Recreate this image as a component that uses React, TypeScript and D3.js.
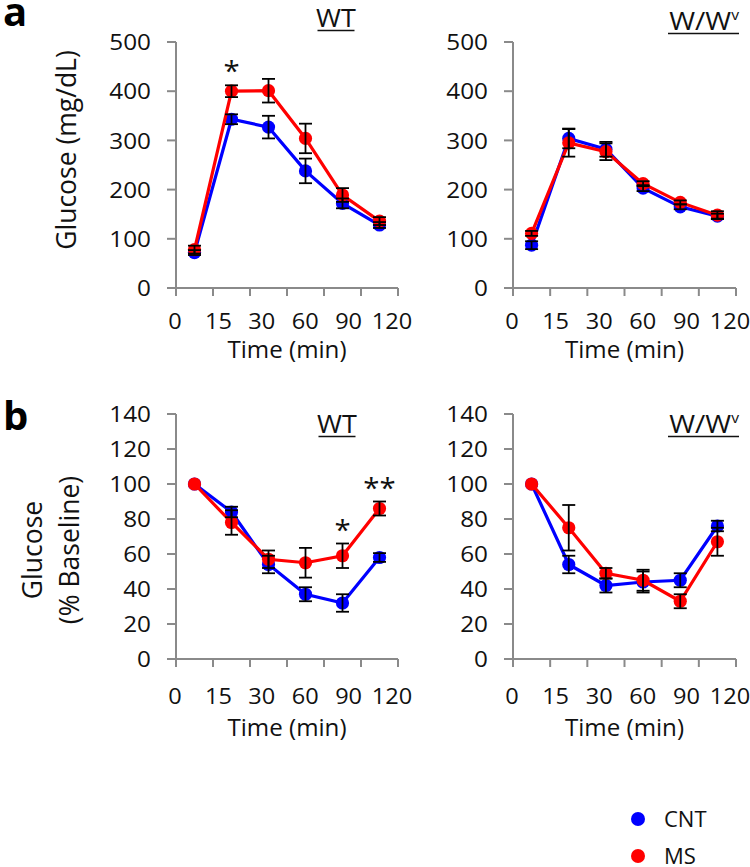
import React from 'react';
import * as d3 from 'd3';

const timeLabels = ['0', '15', '30', '60', '90', '120'];

const aWtCnt = [72, 343, 327, 238, 172, 128];
const aWtCntErr = [5, 10, 23, 25, 10, 6];
const aWtMs = [78, 400, 401, 304, 189, 136];
const aWtMsErr = [8, 12, 24, 30, 14, 8];

const aWvCnt = [87, 304, 282, 203, 165, 146];
const aWvCntErr = [8, 20, 15, 6, 5, 5];
const aWvMs = [111, 295, 277, 212, 174, 148];
const aWvMsErr = [5, 28, 17, 5, 4, 8];

const bWtCnt = [100, 84, 54, 37, 32, 58];
const bWtCntErr = [0, 3, 5, 4, 5, 2.5];
const bWtMs = [100, 78, 57, 55, 59, 86];
const bWtMsErr = [0, 7, 5, 8.5, 7, 4];

const bWvCnt = [100, 54, 42, 44, 45, 76];
const bWvCntErr = [0, 5, 4, 6, 4, 3];
const bWvMs = [100, 75, 49, 45, 33, 67];
const bWvMsErr = [0, 13, 3, 6, 4, 8];

const aTicks = [0, 100, 200, 300, 400, 500];
const bTicks = [0, 20, 40, 60, 80, 100, 120, 140];

const seriesNames = ['CNT', 'MS'];
const seriesColors = ['#0000ff', '#ff0000'];

const FONT = "'Open Sans', sans-serif";
const AXIS = '#8a8a8a';
const INK = '#111';

type Star = { idx: number; text: string };

function T(props: { x: number; y: number; size: number; sx?: number; anchor?: string; children: React.ReactNode; dy?: string }) {
  const { x, y, size, sx = 1, anchor = 'start', children, dy } = props;
  return (
    <text transform={`translate(${x},${y}) scale(${sx},1)`} dy={dy} textAnchor={anchor}
      fontSize={size} fontFamily={FONT} fill={INK}>{children}</text>
  );
}

function Panel(props: {
  left: number; right: number; top: number; bottom: number;
  yMax: number; ticks: number[];
  cnt: number[]; cntErr: number[]; ms: number[]; msErr: number[];
  title: 'WT' | 'WV'; titleX: number; titleY: number;
  labelOff: number; timeOff: number; stars: Star[];
}) {
  const { left, right, top, bottom, yMax, ticks, cnt, cntErr, ms, msErr, title, titleX, titleY, labelOff, timeOff, stars } = props;
  const x = d3.scaleBand<string>().domain(timeLabels).range([left, right]).paddingInner(0).paddingOuter(0);
  const xl = d3.scalePoint<string>().domain(timeLabels).range([left - 1, right - 6]);
  const y = d3.scaleLinear().domain([0, yMax]).range([bottom, top]);
  const bw = x.bandwidth();
  const cx = (i: number) => (x(timeLabels[i]) as number) + bw / 2;
  const line = d3.line<number>().x((_, i) => cx(i)).y((d) => y(d));
  const series = [
    { v: cnt, e: cntErr, c: seriesColors[0] },
    { v: ms, e: msErr, c: seriesColors[1] },
  ];
  const boundaries = d3.range(timeLabels.length + 1).map((i) => left + i * bw);
  return (
    <g>
      <line x1={left} x2={left} y1={top} y2={bottom} stroke={AXIS} strokeWidth={2} />
      {ticks.map((t) => (
        <g key={t}>
          <line x1={left - 9} x2={left} y1={y(t)} y2={y(t)} stroke={AXIS} strokeWidth={2} />
          <T x={left - 25} y={y(t)} dy="0.36em" anchor="end" size={22.5} sx={1.08}>{t}</T>
        </g>
      ))}
      <line x1={left - 9} x2={right} y1={bottom} y2={bottom} stroke={AXIS} strokeWidth={2} />
      {boundaries.map((b, i) => (
        <line key={i} x1={b} x2={b} y1={bottom} y2={bottom + 8} stroke={AXIS} strokeWidth={2} />
      ))}
      {timeLabels.map((l) => (
        <T key={l} x={xl(l) as number} y={bottom + labelOff} dy="0.36em" anchor="middle" size={22} sx={1.07}>{l}</T>
      ))}
      <T x={(left + right) / 2} y={bottom + timeOff} dy="0.36em" anchor="middle" size={23} sx={1.05}>Time (min)</T>
      {series.map((s, si) => (
        <g key={si}>
          <path d={line(s.v) as string} fill="none" stroke={s.c} strokeWidth={3.2} />
          {s.v.map((d, i) => (
            <circle key={i} cx={cx(i)} cy={y(d)} r={6.6} fill={s.c} />
          ))}
        </g>
      ))}
      {series.map((s, si) => (
        <g key={'e' + si}>
          {s.v.map((d, i) => s.e[i] > 0 ? (
            <g key={i} stroke="#000" strokeWidth={1.8}>
              <line x1={cx(i)} x2={cx(i)} y1={y(d - s.e[i])} y2={y(d + s.e[i])} />
              <line x1={cx(i) - 6.5} x2={cx(i) + 6.5} y1={y(d - s.e[i])} y2={y(d - s.e[i])} />
              <line x1={cx(i) - 6.5} x2={cx(i) + 6.5} y1={y(d + s.e[i])} y2={y(d + s.e[i])} />
            </g>
          ) : null)}
        </g>
      ))}
      {stars.map((s, k) => (
        <T key={k} x={cx(s.idx)} y={y(ms[s.idx] + msErr[s.idx]) - 4} anchor="middle" size={28} sx={1.05}>{s.text}</T>
      ))}
      {title === 'WT' ? (
        <g>
          <T x={titleX} y={titleY} anchor="middle" size={25} sx={1.08}>WT</T>
          <line x1={titleX - 18.5} x2={titleX + 18.5} y1={titleY + 3.5} y2={titleY + 3.5} stroke={INK} strokeWidth={1.4} />
        </g>
      ) : (
        <g>
          <T x={titleX} y={titleY} anchor="end" size={25} sx={1.12}>W/W<tspan fontSize={14} dy={-10}>v</tspan></T>
          <line x1={titleX - 71} x2={titleX} y1={titleY + 3.5} y2={titleY + 3.5} stroke={INK} strokeWidth={1.4} />
        </g>
      )}
    </g>
  );
}

export default function App() {
  return (
    <svg width={750} height={867} style={{ position: 'absolute', left: 0, top: 0, background: '#fff' }}>
      <rect width={750} height={867} fill="#fff" />
      <text x={3} y={26} fontSize={40} fontWeight="bold" fontFamily={FONT} fill="#000">a</text>
      <text x={3} y={430} fontSize={40} fontWeight="bold" fontFamily={FONT} fill="#000">b</text>

      <Panel left={176} right={398} top={42} bottom={288} yMax={500} ticks={aTicks}
        cnt={aWtCnt} cntErr={aWtCntErr} ms={aWtMs} msErr={aWtMsErr}
        title="WT" titleX={336} titleY={27} labelOff={33} timeOff={62} stars={[{ idx: 1, text: '*' }]} />
      <Panel left={513} right={736} top={42} bottom={288} yMax={500} ticks={aTicks}
        cnt={aWvCnt} cntErr={aWvCntErr} ms={aWvMs} msErr={aWvMsErr}
        title="WV" titleX={739} titleY={30} labelOff={33} timeOff={62} stars={[]} />
      <Panel left={176} right={398} top={414} bottom={659} yMax={140} ticks={bTicks}
        cnt={bWtCnt} cntErr={bWtCntErr} ms={bWtMs} msErr={bWtMsErr}
        title="WT" titleX={337} titleY={433} labelOff={37} timeOff={69}
        stars={[{ idx: 4, text: '*' }, { idx: 5, text: '**' }]} />
      <Panel left={513} right={736} top={414} bottom={659} yMax={140} ticks={bTicks}
        cnt={bWvCnt} cntErr={bWvCntErr} ms={bWvMs} msErr={bWvMsErr}
        title="WV" titleX={739} titleY={433} labelOff={37} timeOff={69} stars={[]} />

      <text transform="translate(76,150) rotate(-90)" textAnchor="middle" fontSize={26.5} fontFamily={FONT} fill={INK}>Glucose (mg/dL)</text>
      <text transform="translate(42,550) rotate(-90)" textAnchor="middle" fontSize={26.5} fontFamily={FONT} fill={INK}>Glucose</text>
      <text transform="translate(79,550) rotate(-90)" textAnchor="middle" fontSize={26.5} fontFamily={FONT} fill={INK}>(% Baseline)</text>

      {seriesNames.map((n, i) => (
        <g key={n}>
          <circle cx={638} cy={819 + i * 37} r={7} fill={seriesColors[i]} />
          <T x={664} y={819 + i * 37} dy="0.36em" size={22}>{n}</T>
        </g>
      ))}
    </svg>
  );
}
